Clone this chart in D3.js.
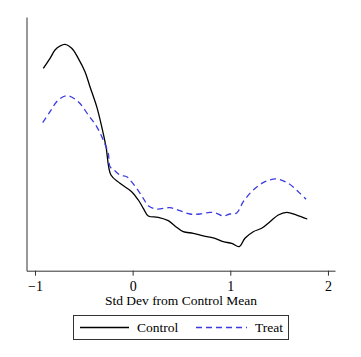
<!DOCTYPE html>
<html><head><meta charset="utf-8">
<script src="https://cdn.jsdelivr.net/npm/d3@7"></script>
<style>body{margin:0;background:#fff;} svg{display:block;font-family:"Liberation Serif","Times New Roman",serif;}</style>
</head><body>
<script>
const controlX = [-0.915,-0.846,-0.795,-0.744,-0.693,-0.624,-0.557,-0.488,-0.437,-0.368,-0.317,-0.273,-0.222,-0.130,-0.010,0.058,0.109,0.160,0.262,0.365,0.433,0.518,0.621,0.723,0.843,0.928,1.014,1.092,1.150,1.235,1.321,1.406,1.491,1.577,1.679,1.788];
const controlY = [0.4787,0.5023,0.5220,0.5314,0.5354,0.5260,0.5023,0.4706,0.4352,0.3879,0.3406,0.2933,0.2263,0.2067,0.1868,0.1672,0.1476,0.1294,0.1263,0.1183,0.1057,0.0922,0.0885,0.0821,0.0766,0.0686,0.0648,0.0572,0.0766,0.0922,0.1003,0.1159,0.1317,0.1381,0.1317,0.1223];
const treatX = [-0.921,-0.846,-0.761,-0.669,-0.557,-0.454,-0.368,-0.301,-0.250,-0.232,-0.198,-0.130,-0.061,-0.027,0.041,0.109,0.160,0.246,0.382,0.485,0.587,0.689,0.792,0.860,0.928,0.997,1.065,1.133,1.235,1.355,1.475,1.593,1.696,1.775];
const treatY = [0.3500,0.3760,0.4037,0.4139,0.3997,0.3682,0.3406,0.3091,0.2777,0.2460,0.2398,0.2263,0.2223,0.2145,0.1949,0.1712,0.1537,0.1459,0.1490,0.1419,0.1341,0.1341,0.1381,0.1357,0.1294,0.1341,0.1365,0.1632,0.1909,0.2105,0.2169,0.2067,0.1868,0.1689];
const xTicks = [-1,0,1,2];
const seriesNames = ["Control","Treat"];
const xTitle = "Std Dev from Control Mean";

const W=361,H=357;
const svg=d3.select("body").append("svg").attr("width",W).attr("height",H);
const x=d3.scaleLinear().domain([-1.087,2.072]).range([26.5,335]);
const y=d3.scaleLinear().domain([0,0.6]).range([270.7,17]);

const xa=svg.append("g").attr("transform","translate(0,270.7)")
  .call(d3.axisBottom(x).tickValues(xTicks).tickSize(5).tickSizeOuter(0).tickFormat(d3.format("d")));
xa.select(".domain").attr("stroke","#333");
xa.selectAll(".tick line").attr("stroke","#333");
xa.selectAll(".tick text").attr("font-size",14).attr("font-family","Liberation Serif").attr("fill","#000").attr("dy","0.85em");
const ya=svg.append("g").attr("transform","translate(26.5,0)")
  .call(d3.axisLeft(y).tickValues([]).tickSizeOuter(0));
ya.select(".domain").attr("stroke","#333");

svg.append("text").attr("x",181).attr("y",305).attr("text-anchor","middle")
  .attr("font-size",13.5).text(xTitle);

const line=d3.line().x(d=>x(d[0])).y(d=>y(d[1])).curve(d3.curveCatmullRom.alpha(0.5));
svg.append("path").datum(d3.zip(controlX,controlY)).attr("d",line)
  .attr("fill","none").attr("stroke","#000").attr("stroke-width",1.3);
svg.append("path").datum(d3.zip(treatX,treatY)).attr("d",line)
  .attr("fill","none").attr("stroke","#3a3ae0").attr("stroke-width",1.3).attr("stroke-dasharray","6,4");

// legend
const lg=svg.append("g");
lg.append("rect").attr("x",73.5).attr("y",315.5).attr("width",215).attr("height",24)
  .attr("fill","#fff").attr("stroke","#333").attr("stroke-width",1);
lg.append("line").attr("x1",80).attr("x2",129).attr("y1",327.5).attr("y2",327.5).attr("stroke","#000").attr("stroke-width",1.3);
lg.append("text").attr("x",137).attr("y",332).attr("font-size",13.5).text(seriesNames[0]);
lg.append("line").attr("x1",196).attr("x2",247).attr("y1",327.5).attr("y2",327.5).attr("stroke","#3a3ae0").attr("stroke-width",1.3).attr("stroke-dasharray","6,4");
lg.append("text").attr("x",255).attr("y",332).attr("font-size",13.5).text(seriesNames[1]);
</script>
</body></html>
